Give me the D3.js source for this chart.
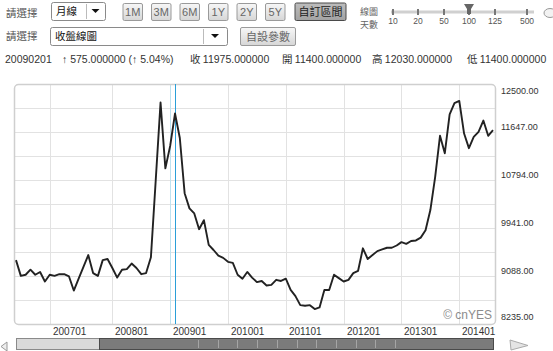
<!DOCTYPE html>
<html>
<head>
<meta charset="utf-8">
<script src="https://cdn.jsdelivr.net/npm/d3@7"></script>
<style>
  body { margin: 0; background: #fff; }
  svg { display: block; }
</style>
</head>
<body>
<div id="chart"></div>
<script>
// monthly closes, 100 periods (線圖天數 100)
const closes = [
  9370, 9090, 9110, 9200, 9110, 9160, 8990, 9110, 9090, 9120,
  9120, 9080, 8830, 9040, 9250, 9460, 9140, 9090, 9370, 9390,
  9230, 9060, 9200, 9210, 9310, 9230, 9120, 9140, 9420, 10790,
  12170, 11000, 11400, 11975, 11540, 10560, 10290, 10200, 9920, 10080,
  9640, 9550, 9450, 9410, 9340, 9320, 9110, 9040, 9160, 9060,
  8980, 9000, 8920, 8930, 9020, 9000, 9040, 8840, 8730, 8570,
  8560, 8570, 8500, 8530, 8840, 8840, 9110, 9050, 8990, 9020,
  9140, 9180, 9580, 9390, 9460, 9530, 9560, 9590, 9590, 9630,
  9690, 9660, 9710, 9720, 9770, 9900, 10260, 10850, 11580, 11270,
  11960, 12160, 12200, 11620, 11360, 11560, 11650, 11850, 11580, 11680
];
const xTickLabels = ["200701", "200801", "200901", "201001", "201101", "201201", "201301", "201401"];
const xTickIndex = [7, 20, 32, 44, 56, 68, 80, 92];
const yTickLabels = [8235, 9088, 9941, 10794, 11647, 12500];
const rangeButtons = ["1M", "3M", "6M", "1Y", "2Y", "5Y"];
const daySteps = ["10", "20", "50", "100", "125", "500"];
const cursorIndex = 33;
const infoDate = "20090201";
const infoChange = "↑ 575.000000 (↑ 5.04%)";
const infoFields = [["收", "11975.000000"], ["開", "11400.000000"], ["高", "12030.000000"], ["低", "11400.000000"]];

const width = 553;
const height = 351;
const plot = { left: 14, top: 84, right: 495, bottom: 324 };
const cjk = '"Noto Sans CJK TC", "Noto Sans", sans-serif';
const latin = '"Liberation Sans", Arial, sans-serif';

const svg = d3.select('#chart')
  .append('svg')
  .attr('width', width)
  .attr('height', height);

const defs = svg.append('defs');
const g1 = defs.append('linearGradient').attr('id', 'btn').attr('x1', 0).attr('y1', 0).attr('x2', 0).attr('y2', 1);
g1.append('stop').attr('offset', 0).attr('stop-color', '#f7f7f7');
g1.append('stop').attr('offset', 1).attr('stop-color', '#d6d6d6');
const g2 = defs.append('linearGradient').attr('id', 'btnOn').attr('x1', 0).attr('y1', 0).attr('x2', 0).attr('y2', 1);
g2.append('stop').attr('offset', 0).attr('stop-color', '#bdbdbd');
g2.append('stop').attr('offset', 1).attr('stop-color', '#a2a2a2');

// ---------- header controls ----------
function label(txt, x, y, size, fill) {
  return svg.append('text').attr('x', x).attr('y', y)
    .attr('font-family', cjk).attr('font-size', size).attr('fill', fill || '#555').text(txt);
}

function selectBox(x, y, w, h, txt, divX) {
  svg.append('rect').attr('x', x + 0.5).attr('y', y + 0.5).attr('width', w).attr('height', h)
    .attr('rx', 2).attr('fill', '#fff').attr('stroke', '#8a8a8a');
  svg.append('line').attr('x1', divX + 0.5).attr('x2', divX + 0.5).attr('y1', y + 2).attr('y2', y + h - 1)
    .attr('stroke', '#bbb');
  const cx = (divX + x + w) / 2, cy = y + h / 2;
  svg.append('path').attr('d', `M${cx - 4},${cy - 2}L${cx + 4},${cy - 2}L${cx},${cy + 2}Z`).attr('fill', '#111');
  label(txt, x + 5, y + h / 2 + 4, 10.5, '#111');
}

function button(x, y, w, h, txt, on) {
  const isLatin = /[0-9A-Z]/.test(txt);
  svg.append('rect').attr('x', x + 0.5).attr('y', y + 0.5).attr('width', w).attr('height', h)
    .attr('rx', 1.5).attr('fill', on ? 'url(#btnOn)' : 'url(#btn)')
    .attr('stroke', on ? '#4a4a4a' : '#9a9a9a');
  svg.append('text').attr('x', x + w / 2 + 0.5).attr('y', y + h / 2 + 4.5)
    .attr('text-anchor', 'middle')
    .attr('font-family', isLatin ? latin : cjk)
    .attr('font-size', 11)
    .attr('fill', on ? '#222' : '#666').text(txt);
}

label('請選擇', 6, 16.5, 10.5);
selectBox(51, 2, 54, 18, '月線', 86);
rangeButtons.forEach((b, i) => button(122.5 + i * 28.5, 3, 19.5, 17, b, false));
button(294.5, 2.5, 51, 17.5, '自訂區間', true);

label('線圖', 360, 14.5, 9, '#666');
label('天數', 360, 27.5, 9, '#666');

// day-count slider
const slideX = [393, 418, 444, 469, 495, 527];
svg.append('line').attr('x1', 391).attr('x2', 534).attr('y1', 12).attr('y2', 12)
  .attr('stroke', '#d0d0d0').attr('stroke-width', 3);
daySteps.forEach((d, i) => {
  svg.append('rect').attr('x', slideX[i] - 1).attr('y', 9).attr('width', 2).attr('height', 6).attr('fill', '#777');
  svg.append('text').attr('x', slideX[i]).attr('y', 23.5).attr('text-anchor', 'middle')
    .attr('font-family', latin).attr('font-size', 8.5).attr('fill', '#555').text(d);
});
const thumbX = slideX[daySteps.indexOf('100')];
svg.append('path')
  .attr('d', `M${thumbX - 5},4L${thumbX + 5},4L${thumbX + 2},9L${thumbX + 2},14L${thumbX - 2},14L${thumbX - 2},9Z`)
  .attr('fill', '#666');
// corner icon
svg.append('ellipse').attr('cx', 550).attr('cy', 13).attr('rx', 6).attr('ry', 4.5)
  .attr('fill', '#f2f2f2').attr('stroke', '#999');

label('請選擇', 6, 40, 10.5);
selectBox(50, 27, 177, 18, '收盤線圖', 203);
button(240, 27, 55, 18, '自設參數', false);

// info row
const infoY = 62.5;
svg.append('text').attr('x', 5).attr('y', infoY).attr('font-family', latin).attr('font-size', 10.5)
  .attr('fill', '#333').text(infoDate);
svg.append('text').attr('x', 62).attr('y', infoY).attr('font-family', latin).attr('font-size', 10.5)
  .attr('fill', '#333').text(infoChange);
const infoX = [190, 282, 372, 467];
infoFields.forEach((f, i) => {
  const t = svg.append('text').attr('x', infoX[i]).attr('y', infoY).attr('fill', '#333').attr('font-size', 10.5);
  t.append('tspan').attr('font-family', cjk).text(f[0] + ' ');
  t.append('tspan').attr('font-family', latin).text(f[1]);
});

// ---------- chart ----------
const x = d3.scaleLinear().domain([0, closes.length - 1]).range([plot.left + 2, plot.right - 2]);
const y = d3.scaleLinear().domain([yTickLabels[0], yTickLabels[yTickLabels.length - 1]]).range([plot.bottom, plot.top]);

svg.append('rect')
  .attr('x', plot.left + 0.5).attr('y', plot.top + 0.5)
  .attr('width', plot.right - plot.left).attr('height', plot.bottom - plot.top)
  .attr('fill', '#fff');

// horizontal grid, half steps between the labelled values
const gridVals = d3.range(11).map(i => y.domain()[0] + i * (y.domain()[1] - y.domain()[0]) / 10);
svg.append('g')
  .selectAll('line')
  .data(gridVals.slice(1, -1))
  .join('line')
    .attr('x1', plot.left).attr('x2', plot.right)
    .attr('y1', d => Math.round(y(d)) + 0.5).attr('y2', d => Math.round(y(d)) + 0.5)
    .attr('stroke', '#e2e2e2');

svg.append('g')
  .selectAll('line')
  .data(xTickIndex)
  .join('line')
    .attr('x1', d => Math.round(x(d)) + 0.5).attr('x2', d => Math.round(x(d)) + 0.5)
    .attr('y1', plot.top).attr('y2', plot.bottom)
    .attr('stroke', d => (d === cursorIndex - 1 ? '#bfe2f0' : '#e2e2e2'));

// frame
svg.append('rect')
  .attr('x', plot.left + 0.5).attr('y', plot.top + 0.5)
  .attr('width', plot.right - plot.left).attr('height', plot.bottom - plot.top)
  .attr('rx', 4).attr('fill', 'none').attr('stroke', '#cfcfcf').attr('stroke-width', 1.5);

// watermark
svg.append('text').attr('x', plot.right - 3).attr('y', plot.bottom - 5.5)
  .attr('text-anchor', 'end').attr('font-family', latin).attr('font-size', 12)
  .attr('fill', '#8c8c8c').text('© cnYES');

// cursor
svg.append('line')
  .attr('x1', Math.round(x(cursorIndex)) + 0.5).attr('x2', Math.round(x(cursorIndex)) + 0.5)
  .attr('y1', plot.top).attr('y2', plot.bottom)
  .attr('stroke', '#2a9fd8').attr('stroke-width', 1);

// close line
const line = d3.line().x((d, i) => x(i)).y(d => y(d));
svg.append('path')
  .datum(closes)
  .attr('d', line)
  .attr('fill', 'none')
  .attr('stroke', '#222')
  .attr('stroke-width', 1.9)
  .attr('stroke-linejoin', 'round');

// y labels
svg.append('g')
  .selectAll('text')
  .data(yTickLabels)
  .join('text')
    .attr('x', plot.right + 6)
    .attr('y', d => Math.min(Math.max(y(d) - 5, plot.top + 7), plot.bottom - 7) + 3.2)
    .attr('font-family', latin).attr('font-size', 9).attr('fill', '#333')
    .text(d => d3.format('.2f')(d));

// x labels
svg.append('g')
  .selectAll('text')
  .data(xTickIndex)
  .join('text')
    .attr('x', d => Math.round(x(d)) + 3)
    .attr('y', plot.bottom + 10.5)
    .attr('font-family', latin).attr('font-size', 10).attr('fill', '#333')
    .text((d, i) => xTickLabels[i]);

// ---------- scrollbar ----------
const sb = { left: 16, right: 493, top: 338, bottom: 349, split: 99 };
svg.append('rect').attr('x', sb.left + 0.5).attr('y', sb.top + 0.5)
  .attr('width', sb.split - sb.left).attr('height', sb.bottom - sb.top)
  .attr('fill', '#dadada').attr('stroke', '#8a8a8a');
svg.append('rect').attr('x', sb.split + 0.5).attr('y', sb.top + 0.5)
  .attr('width', sb.right - sb.split).attr('height', sb.bottom - sb.top)
  .attr('fill', '#7b7b7b').attr('stroke', '#4a4a4a');
svg.append('g')
  .selectAll('line')
  .data(d3.range(11))
  .join('line')
    .attr('x1', d => 198.5 + Math.round(d * 19.7)).attr('x2', d => 198.5 + Math.round(d * 19.7))
    .attr('y1', sb.top + 2).attr('y2', sb.bottom - 1)
    .attr('stroke', '#a5a5a5');
svg.append('path').attr('d', 'M7,342L1,346.5L7,351Z').attr('fill', '#eee').attr('stroke', '#999');
svg.append('path').attr('d', 'M510,340L528,345.5L511,350Z').attr('fill', '#e4e4e4').attr('stroke', '#aaa');
</script>
</body>
</html>
